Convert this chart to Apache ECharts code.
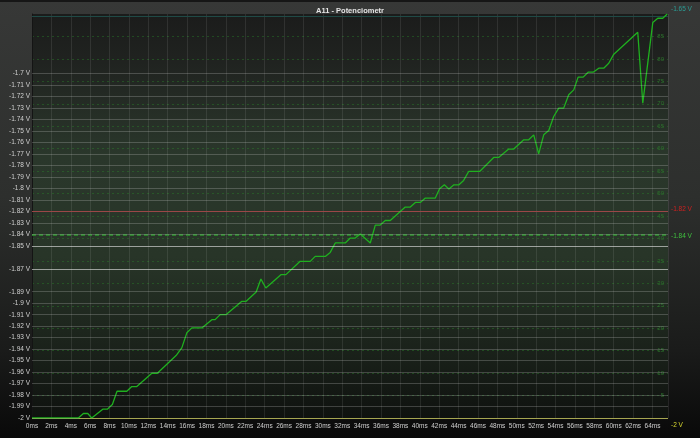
<!DOCTYPE html>
<html>
<head>
<meta charset="utf-8">
<script src="https://cdn.jsdelivr.net/npm/echarts@6/dist/echarts.min.js"></script>
<style>
html,body{margin:0;padding:0;background:#0a0a0a;}
#c{width:700px;height:438px;}
</style>
</head>
<body>
<div id="c"></div>
<script>
// ---- data ----
const titleText = 'A11 - Potenciometr';
const timesMs = [0, 4.78, 5.30, 5.75, 6.16, 7.30, 7.77, 8.29, 8.77, 9.78, 10.29, 10.81, 12.36, 12.93, 14.86, 15.45, 15.97, 16.49, 17.52, 18.55, 18.89, 19.41, 20.03, 21.65, 22.09, 23.12, 23.61, 24.12, 25.67, 26.19, 27.66, 28.70, 29.21, 30.25, 30.76, 31.28, 32.31, 32.83, 33.34, 33.86, 34.89, 35.41, 35.92, 36.44, 36.95, 38.50, 39.02, 39.54, 40.05, 40.57, 41.60, 42.04, 42.53, 43.00, 43.52, 44.04, 44.52, 45.04, 46.17, 47.62, 48.13, 49.17, 49.69, 50.72, 51.23, 51.75, 52.26, 52.78, 53.30, 53.81, 54.33, 54.84, 55.36, 55.88, 56.33, 56.85, 57.36, 57.88, 58.46, 58.97, 59.49, 60.01, 62.48, 63.00, 64.03, 64.55, 65.06, 65.52];
const volts = [-2.000, -2.000, -1.9961, -1.9961, -2.000, -1.9923, -1.9923, -1.9883, -1.9767, -1.9767, -1.9726, -1.9726, -1.9610, -1.9610, -1.9456, -1.9389, -1.9258, -1.9215, -1.9215, -1.9143, -1.9143, -1.9099, -1.9099, -1.8983, -1.8983, -1.8903, -1.8789, -1.8867, -1.8751, -1.8751, -1.8635, -1.8635, -1.8592, -1.8592, -1.8557, -1.8475, -1.8475, -1.8432, -1.8432, -1.8397, -1.8475, -1.8319, -1.8319, -1.8279, -1.8279, -1.8162, -1.8162, -1.8122, -1.8122, -1.8084, -1.8084, -1.8003, -1.7968, -1.8005, -1.7968, -1.7968, -1.7930, -1.7852, -1.7852, -1.7730, -1.7730, -1.7657, -1.7657, -1.7576, -1.7576, -1.7533, -1.7698, -1.7533, -1.7495, -1.7373, -1.7300, -1.7300, -1.7184, -1.7141, -1.7030, -1.7030, -1.6987, -1.6987, -1.6952, -1.6952, -1.6909, -1.6830, -1.6639, -1.7257, -1.6555, -1.6517, -1.6517, -1.6480];
// left voltage tick levels that carry a label and a grid line
const voltTicks = [-2, -1.99, -1.98, -1.97, -1.96, -1.95, -1.94, -1.93, -1.92, -1.91, -1.9, -1.89, -1.87, -1.85, -1.84, -1.83, -1.82, -1.81, -1.8, -1.79, -1.78, -1.77, -1.76, -1.75, -1.74, -1.73, -1.72, -1.71, -1.7];
// marker levels shown at the right edge
const markerValues = [-1.648, -1.8159, -1.8438, -2];
const markerLabels = ['-1.65 V', '-1.82 V', '-1.84 V', '-2 V'];
const xMax = 65.6;
const yMin = -2, yMax = -1.648;
const pctMin = 0, pctMax = 90;

// ---- chart ----
const chart = echarts.init(document.getElementById('c'), null, {renderer: 'canvas'});
const FONT = '"Liberation Sans Narrow", "Liberation Sans", Arial, sans-serif';
const brightSet = [-1.85, -1.87];
const gridLines = voltTicks.map(v => ({
  yAxis: v,
  lineStyle: {
    color: brightSet.some(b => Math.abs(b - v) < 1e-6) ? 'rgba(235,235,235,0.6)' : 'rgba(200,200,200,0.26)',
    width: 1, type: 'solid'
  }
}));
const markerColors = ['#1f4a46', '#8a1a1a', '#2a7f2a', '#9a9a28'];
const markerText = ['#2a9d95', '#d02020', '#3fc23f', '#d8d830'];
const markerOffsets = [[0, -7], [0, -2], [0, 2], [0, 7]];
const markerLines = markerValues.map((v, i) => ({
  yAxis: v,
  lineStyle: {
    color: markerColors[i],
    width: i === 2 ? 2 : 1,
    type: i === 2 ? [4, 3] : 'solid'
  },
  label: {
    show: true, position: 'end', distance: 3,
    formatter: markerLabels[i], color: markerText[i],
    fontSize: 6.5, fontFamily: FONT, offset: markerOffsets[i]
  }
}));

const option = {
  animation: false,
  backgroundColor: {
    type: 'linear', x: 0, y: 0, x2: 0, y2: 1,
    colorStops: [
      {offset: 0, color: '#373837'},
      {offset: 0.45, color: '#2d2f2d'},
      {offset: 0.8, color: '#1a1b1a'},
      {offset: 1, color: '#090909'}
    ]
  },
  title: {
    text: titleText, left: 'center', top: 2,
    textStyle: {color: '#e6e6e6', fontSize: 7.5, fontWeight: 'bold', fontFamily: '"Liberation Sans", Arial, sans-serif'}
  },
  graphic: [
    {type: 'rect', left: 0, top: 0, shape: {width: 700, height: 2}, style: {fill: '#161616'}, silent: true}
  ],
  grid: {
    left: 32, right: 32, top: 14, bottom: 20,
    show: true, borderWidth: 0,
    backgroundColor: {
      type: 'linear', x: 0, y: 0, x2: 0, y2: 1,
      colorStops: [
        {offset: 0, color: '#1b1c1b'},
        {offset: 0.12, color: '#202320'},
        {offset: 0.35, color: '#2a372b'},
        {offset: 0.6, color: '#283528'},
        {offset: 0.85, color: '#192019'},
        {offset: 1, color: '#0f120f'}
      ]
    }
  },
  xAxis: {
    type: 'value', min: 0, max: xMax, interval: 2,
    axisLine: {show: false}, axisTick: {show: false},
    axisLabel: {
      color: '#cfcfcf', fontSize: 6.5, fontFamily: FONT, margin: 5,
      showMaxLabel: false,
      formatter: v => (v <= 64 ? v + 'ms' : '')
    },
    splitLine: {show: true, lineStyle: {color: 'rgba(255,255,255,0.09)', width: 1}}
  },
  yAxis: [
    {
      type: 'value', position: 'left', min: yMin, max: yMax, interval: 0.01,
      axisLine: {show: true, lineStyle: {color: '#141414', width: 1}},
      axisTick: {show: false},
      splitLine: {show: false},
      axisLabel: {
        color: '#cfcfcf', fontSize: 6.5, fontFamily: FONT, margin: 2,
        showMaxLabel: false,
        formatter: v => {
          const r = Math.round(v * 100) / 100;
          const ok = voltTicks.some(t => Math.abs(t - r) < 1e-6);
          return ok ? (r + ' V') : '';
        }
      }
    },
    {
      type: 'value', position: 'right', min: pctMin, max: pctMax, interval: 5,
      axisLine: {show: false}, axisTick: {show: false},
      splitLine: {show: true, showMaxLine: false, showMinLine: false,
        lineStyle: {color: 'rgba(40,135,40,0.42)', width: 1, type: [2, 3]}},
      axisLabel: {
        inside: true, margin: 4, color: '#2c6f2c', fontSize: 6, fontFamily: FONT,
        showMinLabel: false, showMaxLabel: false,
        formatter: v => (v > 0 && v < 90 ? String(v) : '')
      }
    }
  ],
  series: [
    {
      type: 'line', yAxisIndex: 0, silent: true, z: 1,
      data: [],
      markLine: {silent: true, symbol: 'none', animation: false, label: {show: false}, data: gridLines}
    },
    {
      type: 'line', yAxisIndex: 0, silent: true, z: 3,
      data: timesMs.map((t, i) => [t, volts[i]]),
      showSymbol: false,
      lineStyle: {color: '#1fb01f', width: 1.3},
      markLine: {silent: true, symbol: 'none', animation: false, z: 2, data: markerLines}
    }
  ]
};
chart.setOption(option);
</script>
</body>
</html>
